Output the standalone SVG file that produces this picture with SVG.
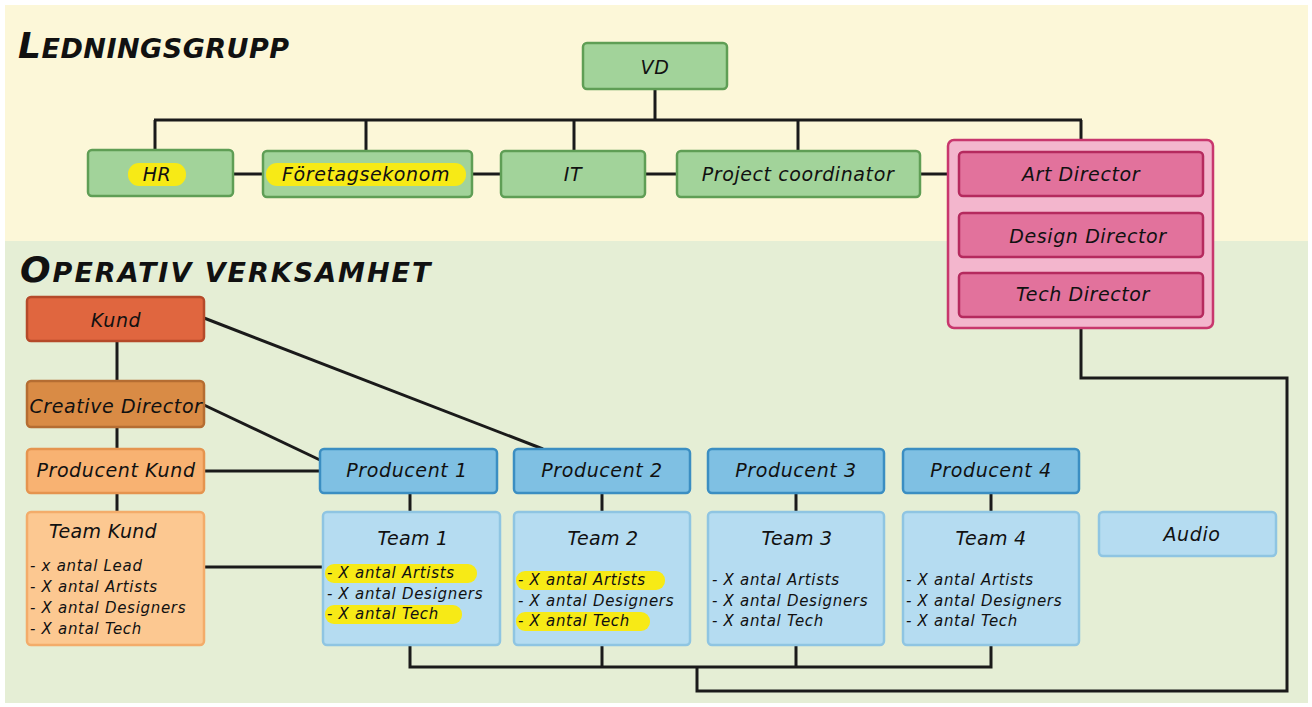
<svg xmlns="http://www.w3.org/2000/svg" width="1312" height="707" viewBox="0 0 1312 707">
<style>
.t{font-family:"DejaVu Sans","Noto Sans",sans-serif;font-style:italic;fill:#111;text-anchor:middle;dominant-baseline:central}
.lbl{font-size:19px;letter-spacing:0.6px}
.ttl{font-size:19px;letter-spacing:0.3px}
.li{font-size:15px;letter-spacing:0.7px;text-anchor:start}
.head{font-family:"DejaVu Sans","Noto Sans",sans-serif;font-style:italic;font-weight:bold;fill:#111}
.g{fill:#a2d39a;stroke:#5f9e55;stroke-width:2.5}
.pk{fill:#e2729c;stroke:#b52a5e;stroke-width:2.5}
.pg{fill:#f3b6cd;stroke:#c8376d;stroke-width:2.5}
.bl{fill:#7fc0e3;stroke:#3b8ec2;stroke-width:2.5}
.lb{fill:#b5dcf1;stroke:#8fc5e2;stroke-width:2.5}
.hl{fill:#f7ea16}
.c line,.c polyline{stroke:#1a1a1a;stroke-width:3;fill:none}
</style>
<rect x="0" y="0" width="1312" height="707" fill="#ffffff"/>
<rect x="5" y="5" width="1303" height="236" fill="#fcf7d8"/>
<rect x="5" y="241" width="1303" height="462" fill="#e5eed5"/>

<g id="titles">
<text class="head" x="18" y="58" letter-spacing="0.5"><tspan font-size="36">L</tspan><tspan font-size="27">EDNINGSGRUPP</tspan></text>
<text class="head" x="20" y="282" letter-spacing="2"><tspan font-size="36">O</tspan><tspan font-size="27">PERATIV VERKSAMHET</tspan></text>
</g>

<g class="c" id="connectors">
<line x1="655" y1="89" x2="655" y2="120"/>
<line x1="154" y1="120" x2="1082" y2="120"/>
<line x1="155" y1="120" x2="155" y2="150"/>
<line x1="366" y1="120" x2="366" y2="151"/>
<line x1="574" y1="120" x2="574" y2="151"/>
<line x1="798" y1="120" x2="798" y2="151"/>
<line x1="1081" y1="120" x2="1081" y2="140"/>
<line x1="233" y1="174" x2="263" y2="174"/>
<line x1="472" y1="174" x2="501" y2="174"/>
<line x1="645" y1="174" x2="677" y2="174"/>
<line x1="920" y1="174" x2="948" y2="174"/>
<line x1="117" y1="341" x2="117" y2="381"/>
<line x1="117" y1="427" x2="117" y2="449"/>
<line x1="117" y1="493" x2="117" y2="512"/>
<line x1="204" y1="318" x2="543" y2="449"/>
<line x1="204" y1="405" x2="320" y2="460"/>
<line x1="204" y1="471" x2="320" y2="471"/>
<line x1="204" y1="567" x2="323" y2="567"/>
<line x1="410" y1="493" x2="410" y2="512"/>
<line x1="602" y1="493" x2="602" y2="512"/>
<line x1="796" y1="493" x2="796" y2="512"/>
<line x1="991" y1="493" x2="991" y2="512"/>
<polyline points="410,645 410,667 991,667 991,645"/>
<line x1="602" y1="645" x2="602" y2="667"/>
<line x1="796" y1="645" x2="796" y2="667"/>
<polyline points="697,667 697,691 1287,691 1287,378 1081,378 1081,328"/>
</g>

<g id="vd"><rect class="g" x="583" y="43" width="144" height="46" rx="4"/><text class="t lbl" x="655" y="67">VD</text></g>
<g id="hr"><rect class="g" x="88" y="150" width="145" height="46" rx="4"/><rect class="hl" x="128" y="163" width="58" height="23" rx="11"/><text class="t lbl" x="157" y="174">HR</text></g>
<g id="foretagsekonom"><rect class="g" x="263" y="151" width="209" height="46" rx="4"/><rect class="hl" x="266" y="163" width="200" height="23" rx="11"/><text class="t lbl" x="366" y="174">Företagsekonom</text></g>
<g id="it"><rect class="g" x="501" y="151" width="144" height="46" rx="4"/><text class="t lbl" x="573" y="174">IT</text></g>
<g id="project-coordinator"><rect class="g" x="677" y="151" width="243" height="46" rx="4"/><text class="t lbl" x="798" y="174">Project coordinator</text></g>

<g id="directors">
<rect class="pg" x="948" y="140" width="265" height="188" rx="6"/>
<g id="art-director"><rect class="pk" x="959" y="152" width="244" height="44" rx="4"/><text class="t lbl" x="1081" y="174">Art Director</text></g>
<g id="design-director"><rect class="pk" x="959" y="213" width="244" height="44" rx="4"/><text class="t lbl" x="1088" y="236">Design Director</text></g>
<g id="tech-director"><rect class="pk" x="959" y="273" width="244" height="44" rx="4"/><text class="t lbl" x="1083" y="294">Tech Director</text></g>
</g>

<g id="kund"><rect x="27" y="297" width="177" height="44" rx="4" fill="#e0663f" stroke="#b54a2a" stroke-width="2.5"/><text class="t lbl" x="116" y="320">Kund</text></g>
<g id="creative-director"><rect x="27" y="381" width="177" height="46" rx="4" fill="#d98b45" stroke="#b56d32" stroke-width="2.5"/><text class="t lbl" x="116" y="406" letter-spacing="0">Creative Director</text></g>
<g id="producent-kund"><rect x="27" y="449" width="177" height="44" rx="4" fill="#f8b272" stroke="#e5944f" stroke-width="2.5"/><text class="t lbl" x="116" y="470">Producent Kund</text></g>
<g id="team-kund"><rect x="27" y="512" width="177" height="133" rx="4" fill="#fcc891" stroke="#f3ac6a" stroke-width="2.5"/>
<text class="t ttl" x="103" y="531">Team Kund</text>
<text class="t li" x="30" y="566">- x antal Lead</text>
<text class="t li" x="30" y="587">- X antal Artists</text>
<text class="t li" x="30" y="608">- X antal Designers</text>
<text class="t li" x="30" y="629">- X antal Tech</text>
</g>

<g id="producent-1"><rect class="bl" x="320" y="449" width="177" height="44" rx="4"/><text class="t lbl" x="407" y="470">Producent 1</text></g>
<g id="producent-2"><rect class="bl" x="514" y="449" width="176" height="44" rx="4"/><text class="t lbl" x="602" y="470">Producent 2</text></g>
<g id="producent-3"><rect class="bl" x="708" y="449" width="176" height="44" rx="4"/><text class="t lbl" x="796" y="470">Producent 3</text></g>
<g id="producent-4"><rect class="bl" x="903" y="449" width="176" height="44" rx="4"/><text class="t lbl" x="991" y="470">Producent 4</text></g>

<g id="team-1"><rect class="lb" x="323" y="512" width="177" height="133" rx="4"/>
<text class="t ttl" x="413" y="538">Team 1</text>
<rect class="hl" x="325" y="564" width="152" height="19" rx="9"/>
<rect class="hl" x="325" y="605" width="137" height="19" rx="9"/>
<text class="t li" x="327" y="573">- X antal Artists</text>
<text class="t li" x="327" y="594">- X antal Designers</text>
<text class="t li" x="327" y="614">- X antal Tech</text>
</g>
<g id="team-2"><rect class="lb" x="514" y="512" width="176" height="133" rx="4"/>
<text class="t ttl" x="603" y="538">Team 2</text>
<rect class="hl" x="516" y="571" width="149" height="19" rx="9"/>
<rect class="hl" x="516" y="612" width="134" height="19" rx="9"/>
<text class="t li" x="518" y="580">- X antal Artists</text>
<text class="t li" x="518" y="601">- X antal Designers</text>
<text class="t li" x="518" y="621">- X antal Tech</text>
</g>
<g id="team-3"><rect class="lb" x="708" y="512" width="176" height="133" rx="4"/>
<text class="t ttl" x="797" y="538">Team 3</text>
<text class="t li" x="712" y="580">- X antal Artists</text>
<text class="t li" x="712" y="601">- X antal Designers</text>
<text class="t li" x="712" y="621">- X antal Tech</text>
</g>
<g id="team-4"><rect class="lb" x="903" y="512" width="176" height="133" rx="4"/>
<text class="t ttl" x="991" y="538">Team 4</text>
<text class="t li" x="906" y="580">- X antal Artists</text>
<text class="t li" x="906" y="601">- X antal Designers</text>
<text class="t li" x="906" y="621">- X antal Tech</text>
</g>
<g id="audio"><rect class="lb" x="1099" y="512" width="177" height="44" rx="4"/><text class="t lbl" x="1192" y="534">Audio</text></g>
</svg>
